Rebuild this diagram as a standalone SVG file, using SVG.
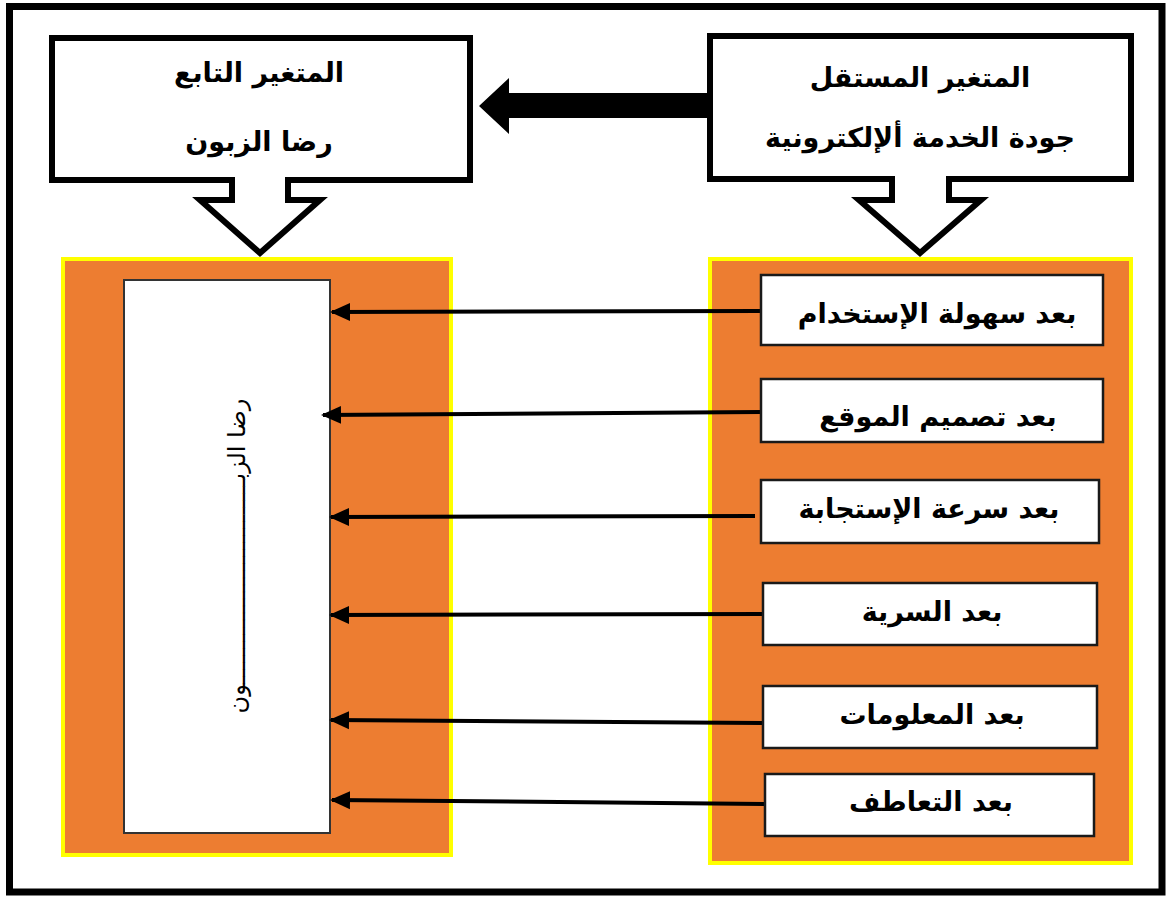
<svg xmlns="http://www.w3.org/2000/svg" width="1170" height="898" viewBox="0 0 1170 898">
<style>
.frame{fill:#fff;stroke:#000;stroke-width:7}
.box{fill:#fff;stroke:#000;stroke-width:6}
.panel{fill:#ED7D31;stroke:#FFFF00;stroke-width:4}
.dim{fill:#fff;stroke:#1a1a1a;stroke-width:2.5}
.inner{fill:#fff;stroke:#333;stroke-width:2}
.t{font-family:"DejaVu Sans",sans-serif;font-weight:bold;fill:#000;text-anchor:middle;direction:rtl;font-size:27px}
.v{font-family:"DejaVu Sans",sans-serif;fill:#000;text-anchor:middle;direction:rtl;font-size:24px}
.conn{stroke:#000;stroke-width:4;fill:none;marker-end:url(#ah)}
</style>
<defs>
<marker id="ah" markerUnits="userSpaceOnUse" markerWidth="20" markerHeight="20" viewBox="0 0 20 20" refX="18" refY="10" orient="auto">
<path d="M0,1 L20,10 L0,19 Z" fill="#000"/>
</marker>
</defs>
<rect class="frame" x="9.5" y="6.5" width="1152.5" height="885.5"/>
<g id="dependent">
<rect class="box" x="52" y="38" width="418" height="142"/>
<path class="box" d="M232,177 V200 H200 L260,253 L320,200 H288 V177"/>
<text class="t" x="259" y="82">المتغير التابع</text>
<text class="t" x="259" y="151">رضا الزبون</text>
</g>
<g id="independent">
<rect class="box" x="710" y="36" width="421" height="143"/>
<path class="box" d="M892,176 V200 H859 L920,253 L981,200 H949 V176"/>
<text class="t" x="920" y="87">المتغير المستقل</text>
<text class="t" x="920" y="147" font-size="28">جودة الخدمة ألإلكترونية</text>
</g>
<g id="main-arrow">
<polygon points="479,106 509,78 509,93 710,93 710,118 509,118 509,134" fill="#000"/>
</g>
<g id="satisfaction-panel">
<rect class="panel" x="63" y="259" width="388" height="596"/>
<rect class="inner" x="124" y="280" width="206" height="553"/>
<text class="v" transform="translate(245,556) rotate(-90)">رضا الزبـــــــــــــــــــــــــــــون</text>
</g>
<g id="dimensions-panel">
<rect class="panel" x="710" y="259" width="421" height="604"/>
</g>
<g id="connectors">
<line class="conn" x1="761" y1="311" x2="332" y2="312"/>
<line class="conn" x1="761" y1="412" x2="323" y2="415"/>
<line class="conn" x1="755" y1="516" x2="331" y2="517"/>
<line class="conn" x1="768" y1="614" x2="331" y2="615"/>
<line class="conn" x1="762" y1="723" x2="331" y2="720"/>
<line class="conn" x1="772" y1="804" x2="332" y2="800"/>
</g>
<g id="dim1"><rect class="dim" x="761" y="275" width="342" height="70"/><text class="t" x="937" y="323">بعد سهولة الإستخدام</text></g>
<g id="dim2"><rect class="dim" x="761" y="379" width="342" height="63"/><text class="t" x="938" y="426">بعد تصميم الموقع</text></g>
<g id="dim3"><rect class="dim" x="761" y="480" width="338" height="63"/><text class="t" x="929" y="518">بعد سرعة الإستجابة</text></g>
<g id="dim4"><rect class="dim" x="763" y="583" width="334" height="62"/><text class="t" x="932" y="621">بعد السرية</text></g>
<g id="dim5"><rect class="dim" x="763" y="686" width="334" height="62"/><text class="t" x="932" y="724">بعد المعلومات</text></g>
<g id="dim6"><rect class="dim" x="765" y="774" width="329" height="62"/><text class="t" x="931" y="811">بعد التعاطف</text></g>
</svg>
